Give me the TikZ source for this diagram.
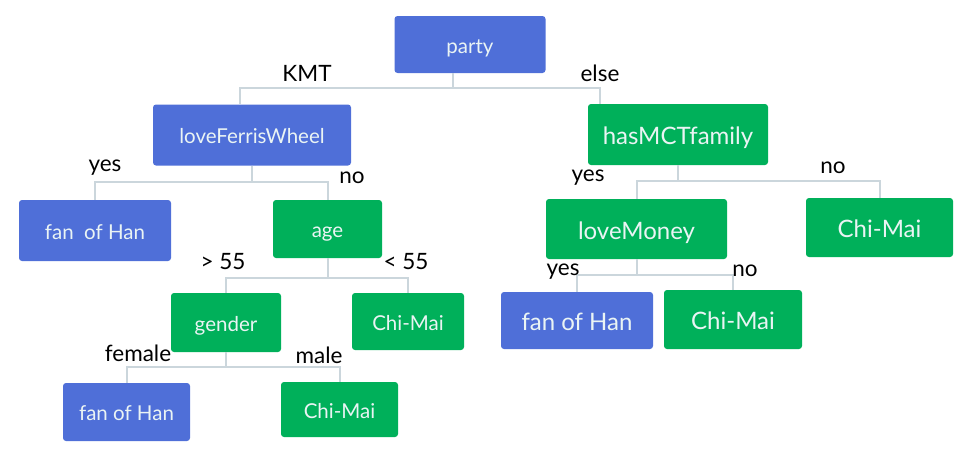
\documentclass[tikz,border=0pt]{standalone}
\usepackage{fontspec}
\setmainfont{Lato}
\definecolor{boxblue}{HTML}{4F6FD8}
\definecolor{boxgreen}{HTML}{00B05A}
\definecolor{boxtext}{HTML}{EAF4F4}
\definecolor{linkgray}{HTML}{CBD6DC}

\begin{document}
\begin{tikzpicture}[x=1pt,y=-1pt,
    box/.style={rectangle,rounded corners=3pt,text=boxtext,inner sep=0pt,text depth=0pt},
    bluebox/.style={box,fill=boxblue},
    greenbox/.style={box,fill=boxgreen},
    small/.style={font=\fontsize{20.5}{24}\selectfont,text height=17pt},
    large/.style={font=\fontsize{24}{28}\selectfont,text height=20pt},
    link/.style={draw=linkgray,line width=2pt}]
\useasboundingbox (0,0) rectangle (973,455);

\begin{scope}[every node/.style={small}]
    \node[bluebox,minimum width=151pt,minimum height=57pt] (party) at (470,44.5) {party};
    \node[bluebox,minimum width=198pt,minimum height=61pt] (lfw) at (252,135) {loveFerrisWheel};
    \node[bluebox,minimum width=152pt,minimum height=61pt] (han1) at (95,230.5) {fan~~of Han};
    \node[greenbox,minimum width=109pt,minimum height=58pt] (age) at (327.5,229) {age};
    \node[greenbox,minimum width=110pt,minimum height=59pt] (gender) at (226,322.5) {gender};
    \node[greenbox,minimum width=112pt,minimum height=57pt] (cm2) at (408,321.5) {Chi-Mai};
    \node[bluebox,minimum width=127pt,minimum height=58pt] (han2) at (126.5,412) {fan of Han};
    \node[greenbox,minimum width=117pt,minimum height=55pt] (cm3) at (339.5,409.5) {Chi-Mai};
\end{scope}

\begin{scope}[every node/.style={large}]
    \node[greenbox,minimum width=180pt,minimum height=61pt] (mct) at (678,134.5) {hasMCTfamily};
    \node[greenbox,minimum width=181pt,minimum height=60pt] (money) at (636.5,229) {loveMoney};
    \node[greenbox,minimum width=147pt,minimum height=59pt] (cm1) at (879.5,227.5) {Chi-Mai};
    \node[bluebox,minimum width=152pt,minimum height=57pt] (han3) at (577,320.5) {fan of Han};
    \node[greenbox,minimum width=138pt,minimum height=59pt] (cm4) at (733,319.5) {Chi-Mai};
\end{scope}

% branches
\draw[link] ([xshift=-17pt]party.south) -- ++(0,15) -| ([xshift=-12pt]lfw.north);
\draw[link] ([xshift=-17pt]party.south) -- ++(0,15) -| ([xshift=-78pt]mct.north);
\draw[link] (lfw.south) -- ++(0,16) -| (han1.north);
\draw[link] (lfw.south) -- ++(0,16) -| (age.north);
\draw[link] (mct.south) -- ++(0,16) -| (money.north);
\draw[link] (mct.south) -- ++(0,16) -| (cm1.north);
\draw[link] (age.south) -- ++(0,20) -| (gender.north);
\draw[link] (age.south) -- ++(0,20) -| (cm2.north);
\draw[link] (gender.south) -- ++(0,15) -| (han2.north);
\draw[link] (gender.south) -- ++(0,15) -| (cm3.north);
\draw[link] (money.south) -- ++(0,16) -| (han3.north);
\draw[link] (money.south) -- ++(0,16) -| (cm4.north);

\begin{scope}[every node/.style={font=\fontsize{22.5}{26}\selectfont,inner sep=0pt}]
    \node (kmt) at (307,73) {KMT};
    \node (else) at (600,73) {else};
    \node (lfwyes) at (105,168) {yes};
    \node (lfwno) at (352,178) {no};
    \node (mctyes) at (588,178) {yes};
    \node (mctno) at (833,168) {no};
    \node (old) at (223,262) {> 55};
    \node (young) at (406,262) {< 55};
    \node (female) at (138,353) {female};
    \node (male) at (319,355) {male};
    \node (moneyyes) at (563,272) {yes};
    \node (moneyno) at (745,271) {no};
\end{scope}
\end{tikzpicture}
\end{document}
